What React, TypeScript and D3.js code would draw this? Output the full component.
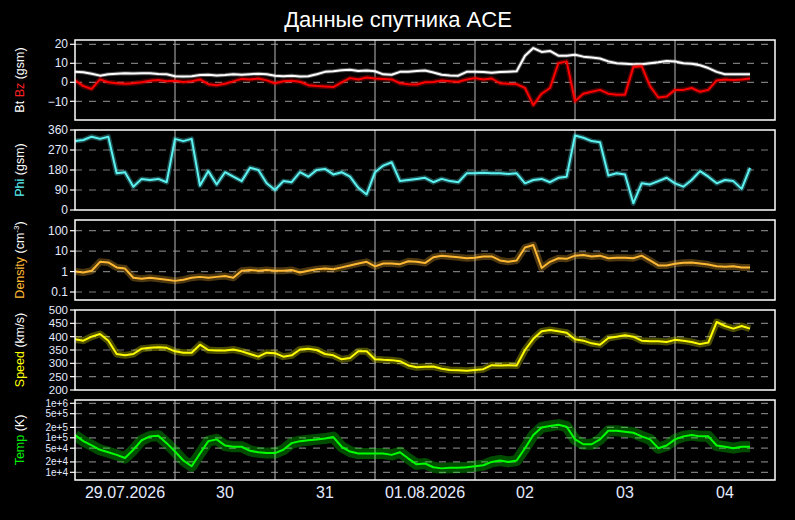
import React from 'react';
import * as d3 from 'd3';

// ACE solar wind data, 2-hour samples from 29.07.2026 00:00 UTC
const START = Date.UTC(2026, 6, 29);
const STEP_H = 2;

const bt = [
  5.5, 5.3, 4.5, 3.5, 4.2, 4.5, 4.8, 4.6, 4.8, 4.7, 4.4, 4.2, 3.2, 3.0, 3.2, 3.8,
  4.0, 3.6, 3.8, 4.2, 4.0, 4.3, 4.5, 4.2, 3.4, 3.2, 3.4, 3.0, 3.2, 4.2, 5.5, 5.8,
  6.4, 6.6, 6.0, 6.2, 5.8, 4.2, 4.0, 5.5, 5.6, 6.0, 6.2, 5.2, 4.0, 3.6, 3.5, 5.5,
  5.6, 5.4, 5.0, 5.4, 5.6, 5.8, 14, 18, 16, 16.5, 14, 14, 14.5, 13.5, 13, 12.5,
  11, 10, 9.8, 9.5, 9.5, 10, 10.5, 11.2, 11, 10, 9.8, 9, 7.5, 5.5, 4.2, 4.3, 4.2, 4.2,
];
const bz = [
  1.0, -2, -3.5, 1.5, 0, -0.5, -0.8, -0.5, 0, 0.8, 1.2, 0.5, 0.8, 0.2, 0.5, 1.5,
  -1, -1.5, -0.8, 0.5, 1.8, 1.5, 2, 1, -0.5, 0.5, 0.8, 0.3, -1.5, -2, -2.2, -2.5,
  0, 2.2, 1.5, 2.5, 2, 1.8, 1.5, -0.5, -1, -1.2, 0, 0.2, 1, 0.5, 0.3, 1.5,
  2.2, 1.5, 2, -0.5, -0.8, -1, -3, -12, -6, -3, 10, 11, -10, -6, -5, -4,
  -6, -6.5, -6.5, 8, 8.5, -2, -8, -7.5, -4, -4, -3, -5, -4, 1, 1.5, 1.2, 1.5, 2,
];
const phi = [
  310, 315, 330, 320, 330, 165, 170, 105, 140, 135, 140, 125, 320, 310, 320, 110,
  175, 115, 170, 150, 130, 190, 180, 120, 90, 130, 125, 170, 150, 180, 185, 160,
  170, 150, 100, 70, 170, 200, 215, 130, 135, 140, 145, 125, 140, 130, 125, 165,
  165, 168, 165, 165, 162, 165, 120, 135, 140, 125, 145, 150, 335, 325, 310, 305,
  155, 165, 160, 30, 120, 115, 130, 145, 120, 105, 135, 175, 150, 120, 135, 130, 95, 190,
];
const density = [
  1.0, 0.9, 1.1, 3.0, 2.8, 1.6, 1.4, 0.5, 0.45, 0.5, 0.45, 0.4, 0.35, 0.4, 0.5, 0.55,
  0.5, 0.55, 0.6, 0.5, 1.1, 1.2, 1.1, 1.2, 1.1, 1.1, 1.2, 0.9, 1.1, 1.3, 1.4, 1.3,
  1.6, 2.0, 2.5, 3.0, 1.8, 2.5, 2.5, 2.3, 3.2, 3.0, 2.6, 5, 6, 5.5, 5, 4.5,
  4.8, 5.5, 5.5, 3.5, 3, 3.5, 15, 20, 1.5, 3, 4.5, 4.2, 6, 6.5, 5.5, 6,
  4.5, 4.8, 4.8, 4.5, 6, 3.5, 2, 2, 2.4, 2.7, 2.8, 2.5, 2.2, 1.8, 1.7, 1.8, 1.6, 1.6,
];
const speed = [
  390, 385, 400, 410, 385, 335, 330, 335, 355, 358, 360, 358, 345, 340, 340, 370,
  350, 348, 348, 352, 345, 335, 325, 340, 338, 325, 330, 352, 355, 350, 335, 330,
  315, 320, 345, 345, 315, 313, 312, 308, 292, 285, 287, 288, 280, 275, 274, 272,
  275, 278, 293, 292, 293, 292, 350, 392, 420, 425, 420, 415, 390, 385, 375, 370,
  395, 400, 405, 400, 385, 383, 383, 380, 388, 385, 380, 372, 378, 455, 440, 430, 440, 430,
];
const temp = [
  1.2e5, 8e4, 6e4, 4.5e4, 3.8e4, 3.2e4, 2.6e4, 4.5e4, 8.5e4, 1.1e5, 1.15e5, 7e4, 4e4, 2.2e4, 1.5e4, 3.5e4,
  8e4, 9e4, 6e4, 5.5e4, 5.5e4, 4.2e4, 3.8e4, 3.6e4, 3.6e4, 4.5e4, 7e4, 8e4, 8.5e4, 9e4, 9.5e4, 1.05e5,
  5.5e4, 4e4, 3.5e4, 3.5e4, 3.5e4, 3.5e4, 3.2e4, 3.8e4, 2.5e4, 1.7e4, 1.8e4, 1.4e4, 1.3e4, 1.35e4, 1.35e4, 1.4e4,
  1.5e4, 1.6e4, 2e4, 2.2e4, 2e4, 2.2e4, 5e4, 1.2e5, 2e5, 2.2e5, 2.4e5, 2.1e5, 9e4, 6.5e4, 6.5e4, 9e4,
  1.6e5, 1.6e5, 1.5e5, 1.4e5, 1.1e5, 9e4, 5e4, 6e4, 9e4, 1.1e5, 1.2e5, 1.1e5, 1.1e5, 6e4, 5.5e4, 5e4, 5.5e4, 5.5e4,
];

const dayLabels = ['29.07.2026', '30', '31', '01.08.2026', '02', '03', '04'];
const bTicks = [20, 10, 0, -10];
const phiTicks = [360, 270, 180, 90, 0];
const densityTicks = [100, 10, 1, 0.1];
const speedTicks = [500, 450, 400, 350, 300, 250, 200];
const tempTicks = [1e6, 5e5, 2e5, 1e5, 5e4, 2e4, 1e4];
const tempTickLabels = ['1e+6', '5e+5', '2e+5', '1e+5', '5e+4', '2e+4', '1e+4'];

const W = 795;
const H = 520;
const LEFT = 75;
const RIGHT = 775;
const FONT = 'Liberation Sans, Arial, sans-serif';
const TICK_COLOR = '#e4eaff';

const x = d3.scaleUtc()
  .domain([new Date(START), new Date(START + 7 * 864e5)])
  .range([LEFT, RIGHT]);
const times = bt.map((_, i) => new Date(START + i * STEP_H * 3600e3));
const dayLines = d3.utcDay.range(new Date(START + 864e5), new Date(START + 7 * 864e5));

type Series = { values: number[]; color: string; spread: number };
type PanelDef = {
  top: number;
  bottom: number;
  y: any;
  ticks: number[];
  labels?: string[];
  tickSize: number;
  series: Series[];
  title: React.ReactNode;
};

const panels: PanelDef[] = [
  {
    top: 40, bottom: 120,
    y: d3.scaleLinear().domain([-19.84, 22.26]).range([120, 40]),
    ticks: bTicks, tickSize: 12,
    series: [
      { values: bt, color: '#ffffff', spread: 4 },
      { values: bz, color: '#ff0000', spread: 5 },
    ],
    title: (
      <>
        <tspan fill="#ffffff">Bt </tspan>
        <tspan fill="#ff2020">Bz</tspan>
        <tspan fill="#ffffff"> (gsm)</tspan>
      </>
    ),
  },
  {
    top: 130, bottom: 210,
    y: d3.scaleLinear().domain([0, 360]).range([210, 130]),
    ticks: phiTicks, tickSize: 12,
    series: [{ values: phi, color: '#5cf2f2', spread: 5 }],
    title: (
      <>
        <tspan fill="#5cf2f2">Phi</tspan>
        <tspan fill="#ffffff"> (gsm)</tspan>
      </>
    ),
  },
  {
    top: 220, bottom: 300,
    y: d3.scaleLog().domain([0.0406, 334]).range([300, 220]),
    ticks: densityTicks, tickSize: 12,
    series: [{ values: density, color: '#ffb833', spread: 7 }],
    title: (
      <>
        <tspan fill="#ffb833">Density</tspan>
        <tspan fill="#ffffff"> (cm</tspan>
        <tspan fill="#ffffff" fontSize="8" dy="-5">-3</tspan>
        <tspan fill="#ffffff" dy="5">)</tspan>
      </>
    ),
  },
  {
    top: 310, bottom: 390,
    y: d3.scaleLinear().domain([200, 500]).range([390, 310]),
    ticks: speedTicks, tickSize: 11.5,
    series: [{ values: speed, color: '#ffff00', spread: 7 }],
    title: (
      <>
        <tspan fill="#ffff00">Speed</tspan>
        <tspan fill="#ffffff"> (km/s)</tspan>
      </>
    ),
  },
  {
    top: 400, bottom: 480,
    y: d3.scaleLog().domain([5985, 1.246e6]).range([480, 400]),
    ticks: tempTicks, tickSize: 10,
    labels: tempTickLabels,
    series: [{ values: temp, color: '#00ff00', spread: 11 }],
    title: (
      <>
        <tspan fill="#00ee00">Temp</tspan>
        <tspan fill="#ffffff"> (K)</tspan>
      </>
    ),
  },
];

const Panel = ({ p, idx }: { p: PanelDef; idx: number }) => {
  const line = d3.line<number>()
    .x((_, i) => x(times[i]))
    .y(d => p.y(d));
  const mid = (p.top + p.bottom) / 2;
  return (
    <g>
      <defs>
        <clipPath id={`clip${idx}`}>
          <rect x={LEFT} y={p.top} width={RIGHT - LEFT} height={p.bottom - p.top} />
        </clipPath>
      </defs>
      {p.ticks.map(t => {
        const yy = p.y(t);
        const edge = Math.abs(yy - p.top) < 2 || Math.abs(yy - p.bottom) < 2;
        return edge ? null : (
          <line key={`g${t}`} x1={LEFT} x2={RIGHT} y1={yy} y2={yy}
            stroke="#7a7a7a" strokeWidth={1.2} strokeDasharray="7,7" />
        );
      })}
      {dayLines.map(d => (
        <line key={+d} x1={x(d)} x2={x(d)} y1={p.top} y2={p.bottom}
          stroke="#9c9c9c" strokeWidth={1.2} />
      ))}
      <g clipPath={`url(#clip${idx})`}>
        {p.series.map((s, k) => (
          <g key={k}>
            {/* soft band standing in for the spread of the minute data */}
            <path d={line(s.values) || ''} fill="none" stroke={s.color}
              strokeWidth={s.spread} strokeOpacity={0.3} strokeLinejoin="round" />
            <path d={line(s.values) || ''} fill="none" stroke={s.color}
              strokeWidth={2} strokeLinejoin="round" />
          </g>
        ))}
      </g>
      <rect x={LEFT} y={p.top} width={RIGHT - LEFT} height={p.bottom - p.top}
        fill="none" stroke="#ffffff" strokeWidth={1.5} />
      {p.ticks.map((t, i) => (
        <g key={`t${t}`}>
          <line x1={LEFT - 5} x2={LEFT} y1={p.y(t)} y2={p.y(t)} stroke="#ffffff" strokeWidth={1.2} />
          <text x={LEFT - 7} y={p.y(t)} dy="0.35em" textAnchor="end"
            fill={TICK_COLOR} fontSize={p.tickSize} fontFamily={FONT}>
            {p.labels ? p.labels[i] : d3.format('~g')(t)}
          </text>
        </g>
      ))}
      <text transform={`translate(24,${mid}) rotate(-90)`} textAnchor="middle"
        fontSize={12.5} fontFamily={FONT}>
        {p.title}
      </text>
    </g>
  );
};

export default function App() {
  return (
    <svg width={W} height={H} style={{ position: 'absolute', left: 0, top: 0 }}>
      <rect width={W} height={H} fill="#000000" />
      <text x={398} y={27} textAnchor="middle" fill="#ffffff" fontSize={22} fontFamily={FONT}>
        Данные спутника ACE
      </text>
      {panels.map((p, i) => <Panel key={i} p={p} idx={i} />)}
      {dayLabels.map((lab, i) => (
        <text key={lab} x={x(new Date(START + (i + 0.5) * 864e5))} y={498}
          textAnchor="middle" fill={TICK_COLOR} fontSize={16} fontFamily={FONT}>
          {lab}
        </text>
      ))}
    </svg>
  );
}
